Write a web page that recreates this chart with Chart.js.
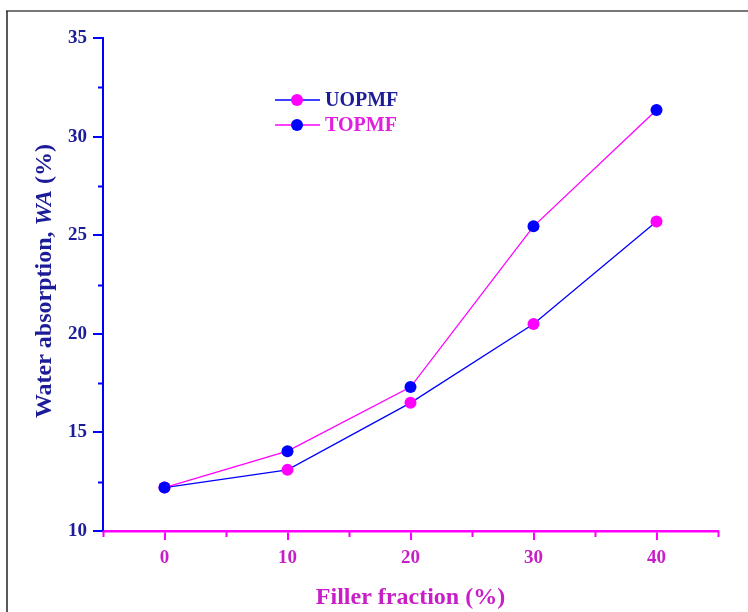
<!DOCTYPE html>
<html>
<head>
<meta charset="utf-8">
<script src="https://cdn.jsdelivr.net/npm/chart.js@4/dist/chart.umd.min.js"></script>
<style>
  html, body { margin: 0; padding: 0; background: #fff; }
  #wrap { width: 748px; height: 612px; position: relative; }
</style>
</head>
<body>
<div id="wrap"><canvas id="waChart" width="748" height="612"></canvas></div>
<script>
// Data
const fillerFraction = [0, 10, 20, 30, 40];
const uopmfValues = [12.2, 13.1, 16.5, 20.5, 25.7];
const topmfValues = [12.2, 14.05, 17.3, 25.45, 31.35];
const xTickValues = [0, 10, 20, 30, 40];
const yTickValues = [10, 15, 20, 25, 30, 35];
const xMinorTicks = [-5, 5, 15, 25, 35, 45];
const yMinorTicks = [12.5, 17.5, 22.5, 27.5, 32.5];

const BLUE = "#0000ff";
const MAGENTA = "#ff00ff";
const Y_TEXT = "#1c1c98";
const X_TEXT = "#c81ec8";
const SERIF = "'Liberation Serif', 'Times New Roman', serif";

const toPoints = (xs, ys) => xs.map((x, i) => ({ x: x, y: ys[i] }));

// white background + outer frame
const framePlugin = {
  id: "frame",
  beforeDraw(chart) {
    const ctx = chart.ctx;
    ctx.save();
    ctx.fillStyle = "#fff";
    ctx.fillRect(0, 0, chart.width, chart.height);
    ctx.strokeStyle = "#777";
    ctx.lineWidth = 2;
    ctx.beginPath();
    ctx.moveTo(6, 11);
    ctx.lineTo(chart.width, 11);
    ctx.stroke();
    ctx.strokeStyle = "#222";
    ctx.lineWidth = 1.5;
    ctx.beginPath();
    ctx.moveTo(7, chart.height);
    ctx.lineTo(7, 11);
    ctx.stroke();
    ctx.restore();
  },
};

// minor ticks, y title with italic part, in-plot legend
const extrasPlugin = {
  id: "extras",
  afterDraw(chart) {
    const ctx = chart.ctx;
    const xs = chart.scales.x;
    const ys = chart.scales.y;
    const area = chart.chartArea;
    ctx.save();

    // minor ticks
    ctx.lineWidth = 2;
    ctx.strokeStyle = BLUE;
    yMinorTicks.forEach((v) => {
      const py = Math.round(ys.getPixelForValue(v)) + 0.5;
      ctx.beginPath();
      ctx.moveTo(area.left - 5, py);
      ctx.lineTo(area.left, py);
      ctx.stroke();
    });
    ctx.strokeStyle = MAGENTA;
    xMinorTicks.forEach((v) => {
      const px = Math.round(xs.getPixelForValue(v)) + 0.5;
      ctx.beginPath();
      ctx.moveTo(px, area.bottom);
      ctx.lineTo(px, area.bottom + 6);
      ctx.stroke();
    });

    // y axis title
    const parts = [
      { t: "Water absorption, ", f: "bold 24px " + SERIF },
      { t: "WA", f: "italic bold 24px " + SERIF },
      { t: " (%)", f: "bold 24px " + SERIF },
    ];
    let total = 0;
    parts.forEach((p) => {
      ctx.font = p.f;
      p.w = ctx.measureText(p.t).width;
      total += p.w;
    });
    ctx.translate(45, 281);
    ctx.rotate(-Math.PI / 2);
    ctx.fillStyle = Y_TEXT;
    ctx.textBaseline = "middle";
    ctx.textAlign = "left";
    let cx = -total / 2;
    parts.forEach((p) => {
      ctx.font = p.f;
      ctx.fillText(p.t, cx, 0);
      cx += p.w;
    });
    ctx.setTransform(1, 0, 0, 1, 0, 0);

    // legend
    const items = [chart.data.datasets[1], chart.data.datasets[0]];
    const textColors = [Y_TEXT, "#e020e0"];
    items.forEach((ds, i) => {
      const y = 100 + i * 25;
      ctx.strokeStyle = ds.borderColor;
      ctx.lineWidth = 1.5;
      ctx.beginPath();
      ctx.moveTo(275, y);
      ctx.lineTo(320, y);
      ctx.stroke();
      ctx.fillStyle = ds.pointBackgroundColor;
      ctx.beginPath();
      ctx.arc(297, y, 6, 0, Math.PI * 2);
      ctx.fill();
      ctx.font = "bold 20px " + SERIF;
      ctx.fillStyle = textColors[i];
      ctx.textBaseline = "middle";
      ctx.fillText(ds.label, 325, y + 1);
    });
    ctx.restore();
  },
};

new Chart(document.getElementById("waChart").getContext("2d"), {
  type: "line",
  data: {
    datasets: [
      {
        label: "TOPMF",
        data: toPoints(fillerFraction, topmfValues),
        borderColor: MAGENTA,
        borderWidth: 1.3,
        pointBackgroundColor: BLUE,
        pointBorderColor: BLUE,
        pointRadius: 6,
        pointBorderWidth: 0,
        order: 0,
      },
      {
        label: "UOPMF",
        data: toPoints(fillerFraction, uopmfValues),
        borderColor: BLUE,
        borderWidth: 1.3,
        pointBackgroundColor: MAGENTA,
        pointBorderColor: MAGENTA,
        pointRadius: 6,
        pointBorderWidth: 0,
        order: 1,
      },
    ],
  },
  options: {
    responsive: false,
    animation: false,
    layout: { padding: { top: 38, right: 30, left: 0, bottom: 0 } },
    plugins: {
      legend: { display: false },
      tooltip: { enabled: false },
    },
    scales: {
      x: {
        type: "linear",
        min: -5,
        max: 45,
        afterBuildTicks: (scale) => {
          scale.ticks = xTickValues.map((v) => ({ value: v }));
        },
        afterFit: (scale) => {
          scale.height = 81;
        },
        border: { display: true, color: MAGENTA, width: 2.5 },
        grid: {
          drawOnChartArea: false,
          drawTicks: true,
          tickLength: 9,
          color: MAGENTA,
          lineWidth: 2,
        },
        ticks: {
          color: X_TEXT,
          padding: 7,
          font: { family: SERIF, size: 19, weight: "bold" },
        },
        title: {
          display: true,
          text: "Filler fraction (%)",
          color: X_TEXT,
          font: { family: SERIF, size: 24, weight: "bold" },
          padding: { top: 10, bottom: 0 },
        },
      },
      y: {
        type: "linear",
        min: 10,
        max: 35,
        afterBuildTicks: (scale) => {
          scale.ticks = yTickValues.map((v) => ({ value: v }));
        },
        afterFit: (scale) => {
          scale.width = 103;
        },
        border: { display: true, color: BLUE, width: 2 },
        grid: {
          drawOnChartArea: false,
          drawTicks: true,
          tickLength: 10,
          color: BLUE,
          lineWidth: 2,
        },
        ticks: {
          color: Y_TEXT,
          padding: 6,
          font: { family: SERIF, size: 19, weight: "bold" },
        },
      },
    },
  },
  plugins: [framePlugin, extrasPlugin],
});
</script>
</body>
</html>
